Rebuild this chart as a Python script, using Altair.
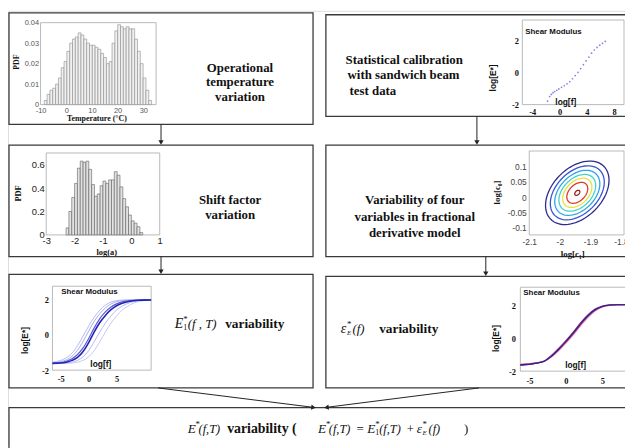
import altair as alt
import numpy as np
import pandas as pd

W, H = 625, 440
SERIF = "Liberation Serif"
SANS = "Liberation Sans"

# ---------------- data ----------------
temp_centers = [-8.0, -6.9, -5.8, -4.7, -3.6, -2.5, -1.4, -0.3, 0.8, 1.9, 3.0, 4.1, 5.2, 6.3,
                7.4, 8.5, 9.6, 10.7, 11.8, 12.9, 14.0, 15.1, 16.2, 17.3, 18.4, 19.5, 20.6,
                21.7, 22.8, 23.9, 25.0, 26.1, 27.2, 28.3, 29.4, 30.5, 31.6, 32.7]
temp_pdf = [0.002, 0.005, 0.007, 0.008, 0.010, 0.013, 0.018, 0.021, 0.026, 0.030, 0.032, 0.033,
            0.035, 0.034, 0.032, 0.030, 0.029, 0.029, 0.028, 0.027, 0.025, 0.023, 0.020, 0.021,
            0.030, 0.036, 0.039, 0.038, 0.037, 0.038, 0.037, 0.037, 0.032, 0.026, 0.020, 0.013,
            0.007, 0.002]
temp_half = 0.55

shift_centers = [-2.25, -2.15, -2.05, -1.95, -1.85, -1.75, -1.65, -1.55, -1.45, -1.35, -1.25,
                 -1.15, -1.05, -0.95, -0.85, -0.75, -0.65, -0.55, -0.45, -0.35, -0.25, -0.15,
                 -0.05, 0.05, 0.15, 0.25, 0.35]
shift_pdf = [0.06, 0.20, 0.32, 0.44, 0.57, 0.63, 0.62, 0.63, 0.56, 0.43, 0.33, 0.35, 0.42, 0.46,
             0.44, 0.47, 0.47, 0.54, 0.51, 0.41, 0.31, 0.24, 0.17, 0.12, 0.10, 0.07, 0.02]
shift_half = 0.05

scat_logf = [-1.75, -1.45, -1.2, -0.95, -0.7, -0.4, -0.1, 0.3, 0.7, 1.1, 1.5, 1.9,
             2.3, 2.7, 3.1, 3.5, 3.9, 4.3, 4.7, 5.1, 5.5, 5.9, 6.3, 6.7]
scat_logE = [-1.78, -1.50, -1.36, -1.25, -1.18, -1.10, -1.02, -0.92, -0.82, -0.70, -0.56, -0.38,
             -0.18, 0.02, 0.26, 0.50, 0.74, 0.98, 1.22, 1.42, 1.58, 1.72, 1.84, 1.96]

e1_logf = [-6.5, -5, -4, -3, -2, -1, 0, 1, 2, 3, 4, 5, 6, 7, 8, 9, 10, 11.2]
e1_series = {
    "light_a": [-1.55, -1.45, -1.30, -1.05, -0.62, -0.08, 0.48, 0.98, 1.38, 1.66, 1.83, 1.91, 1.94, 1.95, 1.95, 1.95, 1.95, 1.95],
    "light_b": [-1.58, -1.52, -1.42, -1.22, -0.88, -0.38, 0.20, 0.75, 1.18, 1.50, 1.72, 1.85, 1.91, 1.94, 1.95, 1.95, 1.95, 1.95],
    "light_c": [-1.62, -1.62, -1.60, -1.55, -1.45, -1.25, -0.90, -0.40, 0.15, 0.65, 1.05, 1.38, 1.60, 1.75, 1.85, 1.90, 1.93, 1.95],
    "light_d": [-1.62, -1.62, -1.62, -1.60, -1.55, -1.45, -1.25, -0.90, -0.40, 0.15, 0.65, 1.05, 1.38, 1.60, 1.76, 1.86, 1.92, 1.95],
    "dark_b": [-1.60, -1.57, -1.50, -1.36, -1.12, -0.75, -0.22, 0.38, 0.90, 1.28, 1.55, 1.73, 1.84, 1.90, 1.93, 1.94, 1.95, 1.95],
    "dark_a": [-1.62, -1.60, -1.55, -1.45, -1.28, -0.95, -0.45, 0.15, 0.68, 1.08, 1.40, 1.62, 1.76, 1.85, 1.90, 1.93, 1.94, 1.95],
}
e1_colors = {"light_a": "#b4baf0", "light_b": "#a6aeee", "light_c": "#b4baf0", "light_d": "#c4c9f4",
             "dark_b": "#5a5ad6", "dark_a": "#2424b4"}
e1_widths = {"light_a": 1.0, "light_b": 1.0, "light_c": 1.0, "light_d": 1.0, "dark_b": 1.2, "dark_a": 1.6}

eps_logf = [-6.25, -5, -4, -3, -2, -1, 0, 1, 2, 3, 4, 5, 6, 7, 8.1]
eps_series = {
    "pink": [-1.58, -1.54, -1.48, -1.40, -1.15, -0.76, -0.30, 0.20, 0.74, 1.24, 1.64, 1.88, 1.98, 2.01, 2.02],
    "magenta": [-1.60, -1.56, -1.50, -1.40, -1.12, -0.72, -0.25, 0.26, 0.80, 1.30, 1.68, 1.90, 1.99, 2.02, 2.02],
    "purple": [-1.65, -1.60, -1.50, -1.38, -1.05, -0.62, -0.15, 0.36, 0.92, 1.40, 1.76, 1.94, 2.01, 2.02, 2.02],
    "navy": [-1.62, -1.58, -1.52, -1.42, -1.10, -0.68, -0.20, 0.30, 0.86, 1.35, 1.72, 1.92, 2.00, 2.02, 2.02],
}
eps_colors = {"pink": "#f08cb8", "magenta": "#c8358e", "purple": "#7a2c9e", "navy": "#24247c"}

# contour rings of the joint density (read: centre, outer ring semi-axes in px, tilt, ring scales)
cont_center = (-1.943, 0.014)
cont_outer_axes_px = (38.0, 25.0)
cont_tilt_deg = 45.0
cont_scales = [1.0, 0.85, 0.71, 0.58, 0.46, 0.33, 0.08]
cont_colors = ["#2c2c8e", "#3a55d4", "#2fa6e6", "#46d2c8", "#e4e23c", "#e2382a", "#9c1c1c"]
CONT_PX_PER_UNIT = 310.0

# ---------------- tables ----------------
dummy = pd.DataFrame({"k": [0]})

df_temp = pd.DataFrame({"c": temp_centers, "pdf": temp_pdf})
df_temp["lo"] = df_temp["c"] - temp_half
df_temp["hi"] = df_temp["c"] + temp_half

df_shift = pd.DataFrame({"c": shift_centers, "pdf": shift_pdf})
df_shift["lo"] = df_shift["c"] - shift_half
df_shift["hi"] = df_shift["c"] + shift_half

df_scat = pd.DataFrame({"f": scat_logf, "E": scat_logE})

rows = []
for k, ys in e1_series.items():
    for i, (xv, yv) in enumerate(zip(e1_logf, ys)):
        rows.append({"s": k, "i": i, "f": xv, "E": yv, "col": e1_colors[k], "sw": e1_widths[k]})
df_e1 = pd.DataFrame(rows)

rows = []
for k, ys in eps_series.items():
    for i, (xv, yv) in enumerate(zip(eps_logf, ys)):
        rows.append({"s": k, "i": i, "f": xv, "E": yv, "col": eps_colors[k]})
df_eps = pd.DataFrame(rows)

rows = []
th = np.deg2rad(cont_tilt_deg)
a_px, b_px = cont_outer_axes_px
for lvl, (scl, col) in enumerate(zip(cont_scales, cont_colors)):
    for i, t in enumerate(np.linspace(0, 2 * np.pi, 73)):
        u, v = a_px * np.cos(t), b_px * np.sin(t)
        dx = u * np.cos(th) - v * np.sin(th)
        dy = u * np.sin(th) + v * np.cos(th)
        rows.append({"lvl": lvl, "i": i, "col": col,
                     "c1": cont_center[0] + scl * dx / CONT_PX_PER_UNIT,
                     "c0": cont_center[1] + scl * dy / CONT_PX_PER_UNIT})
df_cont = pd.DataFrame(rows)

# ---------------- helpers ----------------
def box(x, x2, y, y2, stroke="#3a3a3a", sw=1.3, fill="white"):
    return alt.Chart(dummy).mark_rect(fill=fill, stroke=stroke, strokeWidth=sw).encode(
        x=alt.value(x), x2=alt.value(x2), y=alt.value(y), y2=alt.value(y2))


def txt(s, x, y, size=13, font=SERIF, weight="bold", style="normal", align="center",
        angle=0, color="#111111", baseline="middle", lh=None):
    kw = dict(text=s, fontSize=size, font=font, fontWeight=weight, fontStyle=style,
              align=align, angle=angle, color=color, baseline=baseline)
    if lh is not None:
        kw["lineHeight"] = lh
    return alt.Chart(dummy).mark_text(**kw).encode(x=alt.value(x), y=alt.value(y))


def vline_arrow(x, y1, y2):
    r = alt.Chart(dummy).mark_rule(color="#222222", strokeWidth=1).encode(
        x=alt.value(x), y=alt.value(y1), y2=alt.value(y2 - 3))
    h = alt.Chart(dummy).mark_point(shape="triangle-down", filled=True, size=28, color="#222222",
                                    opacity=1, strokeWidth=0).encode(
        x=alt.value(x), y=alt.value(y2 - 2.6))
    return [r, h]


def diag_arrow(x1, y1, x2, y2):
    dx, dy = x2 - x1, y2 - y1
    L = (dx * dx + dy * dy) ** 0.5
    ux, uy = dx / L, dy / L
    ang = float(np.degrees(np.arctan2(uy, ux))) % 360
    r = alt.Chart(dummy).mark_rule(color="#222222", strokeWidth=1).encode(
        x=alt.value(x1), y=alt.value(y1), x2=alt.value(x2 - 3 * ux), y2=alt.value(y2 - 3 * uy))
    h = alt.Chart(dummy).mark_point(shape="triangle-right", filled=True, size=28, color="#222222",
                                    opacity=1, strokeWidth=0, angle=ang).encode(
        x=alt.value(x2 - 2.6 * ux), y=alt.value(y2 - 2.6 * uy))
    return [r, h]


def ax(orient, offset, values, font, size, weight, color, pad):
    return alt.Axis(orient=orient, offset=offset, values=values,
                    labelFont=font, labelFontSize=size, labelFontWeight=weight,
                    labelColor=color, labelPadding=pad, ticks=False, domain=False,
                    grid=False, title=None, labelFlush=False, labelOverlap=False,
                    zindex=2,
                    labelExpr="'' + datum.value")


def sc(domain, rng):
    return alt.Scale(domain=domain, range=rng, nice=False, zero=False)


layers = []

# ---------------- boxes ----------------
layers += [
    box(1, 309, 2, 115), box(322, 660, 4, 107),
    box(1, 309, 136, 249), box(322, 660, 136, 249),
    box(1, 309, 267, 382), box(322, 660, 269, 382),
    box(1, 660, 402, 470),
]

# inner plot frames
FR = "#a8a8a8"
layers += [
    box(33, 150, 12, 95, stroke=FR, sw=0.8),
    box(38.7, 153.7, 144, 227, stroke=FR, sw=0.8),
    box(521, 624, 9.3, 95, stroke=FR, sw=0.8),
    box(528, 624, 142, 227, stroke=FR, sw=0.8),
    box(45, 145, 279, 364, stroke=FR, sw=0.8),
    box(519, 640, 280, 365, stroke=FR, sw=0.8),
]

# ---------------- chart 1: temperature histogram ----------------
layers.append(
    alt.Chart(df_temp).mark_rect(fill="#f1f1f1", stroke="#8a8a8a", strokeWidth=0.6).encode(
        x=alt.X("lo:Q", scale=sc([-10, 35], [33, 150]),
                axis=ax("bottom", 95 - H, [-10, 0, 10, 20, 30], SANS, 7.5, "normal", "#555555", 2)),
        x2="hi:Q",
        y=alt.Y("pdf:Q", scale=sc([0, 0.04], [95, 12]),
                axis=ax("left", -33, [0, 0.01, 0.02, 0.03, 0.04], SANS, 7.5, "normal", "#555555", 2)),
        y2=alt.datum(0),
    )
)
layers += [
    txt("PDF", 9, 52, size=8, angle=270),
    txt("Temperature (°C)", 90, 109.5, size=8),
]

# ---------------- chart 2: shift factor histogram ----------------
layers.append(
    alt.Chart(df_shift).mark_rect(fill="#e2e2e2", stroke="#5e5e5e", strokeWidth=0.6).encode(
        x=alt.X("lo:Q", scale=sc([-3, 1], [38.7, 153.7]),
                axis=ax("bottom", 227 - H, [-3, -2, -1, 0, 1], SANS, 9.5, "normal", "#222222", 1)),
        x2="hi:Q",
        y=alt.Y("pdf:Q", scale=sc([0, 0.7], [227, 144]),
                axis=ax("left", -38.7, [0, 0.2, 0.4, 0.6], SANS, 9.5, "normal", "#222222", 2)),
        y2=alt.datum(0),
    )
)
layers += [
    txt("PDF", 10, 185, size=8.5, angle=270),
    txt("log(a)", 100, 244, size=8.5),
]

# ---------------- chart 3: calibration scatter ----------------
layers.append(
    alt.Chart(df_scat).mark_circle(size=3, color="#4a4ad8", opacity=0.7).encode(
        x=alt.X("f:Q", scale=sc([-5.45, 9.45], [521, 624]),
                axis=ax("bottom", 95 - H, [-4, 0, 4, 8], SERIF, 8.5, "bold", "#111111", 3)),
        y=alt.Y("E:Q", scale=sc([-2, 3.3], [95, 9.3]),
                axis=ax("left", -521, [-2, 0, 2], SERIF, 8.5, "bold", "#111111", 4)),
    )
)
layers += [
    txt("log[E*]", 491, 68, size=8.5, font=SANS, angle=270),
    txt("Shear Modulus", 524, 21, size=8, font=SANS, align="left"),
    txt("log[f]", 565, 92, size=8.5, font=SANS),
]

# ---------------- chart 4: contours ----------------
layers.append(
    alt.Chart(df_cont).mark_line(strokeWidth=1.3).encode(
        x=alt.X("c1:Q", scale=sc([-2.1, -2.1 + 96 / CONT_PX_PER_UNIT], [528, 624]),
                axis=ax("bottom", 227 - H, [-2.1, -2, -1.9, -1.8], SANS, 8.5, "normal", "#444444", 3)),
        y=alt.Y("c0:Q", scale=sc([-0.1235, 0.1506], [227, 142]),
                axis=ax("left", -528, [-0.1, -0.05, 0, 0.05, 0.1], SANS, 8.5, "normal", "#444444", 3)),
        detail="lvl:N",
        order="i:Q",
        color=alt.Color("col:N", scale=None),
    )
)
layers += [
    txt("log[c₀]", 495, 184, size=9, font=SERIF, angle=270),
    txt("log[c₁]", 572, 246, size=9, font=SERIF),
]

# ---------------- chart 5: E1 variability curves ----------------
layers.append(
    alt.Chart(df_e1).mark_line(interpolate="monotone").encode(
        x=alt.X("f:Q", scale=sc([-6.5, 11.2], [45, 145]),
                axis=ax("bottom", 364 - H, [-5, 0, 5], SERIF, 8.5, "bold", "#111111", 5)),
        y=alt.Y("E:Q", scale=sc([-2, 2.72], [364, 279]),
                axis=ax("left", -45, [-2, 0, 2], SERIF, 8.5, "bold", "#111111", 4)),
        detail="s:N",
        order="i:Q",
        color=alt.Color("col:N", scale=None),
        strokeWidth=alt.StrokeWidth("sw:Q", scale=None),
    )
)
layers += [
    txt("log[E*]", 17, 334, size=8.5, font=SANS, angle=270),
    txt("Shear Modulus", 54, 285, size=8, font=SANS, align="left"),
    txt("log[f]", 94, 358, size=8.5, font=SANS),
]

# ---------------- chart 6: epsilon variability curves ----------------
layers.append(
    alt.Chart(df_eps).mark_line(interpolate="monotone", strokeWidth=1.1).encode(
        x=alt.X("f:Q", scale=sc([-6.25, 8.1], [519, 625]),
                axis=ax("bottom", 365 - H, [-5, 0, 5], SERIF, 8.5, "bold", "#111111", 6)),
        y=alt.Y("E:Q", scale=sc([-2, 3.08], [365, 280]),
                axis=ax("left", -519, [-2, 0, 2], SERIF, 8.5, "bold", "#111111", 5)),
        detail="s:N",
        order="i:Q",
        color=alt.Color("col:N", scale=None),
    )
)
layers += [
    txt("log[E*]", 494, 332, size=8.5, font=SANS, angle=270),
    txt("Shear Modulus", 522, 286, size=8, font=SANS, align="left"),
    txt("log[f]", 575, 359, size=8.5, font=SANS),
]

# ---------------- box texts ----------------
layers += [
    txt(["Operational", "temperature", "variation"], 235, 58, size=13, lh=14.5),
    txt("Statistical calibration", 342, 50, size=13, align="left"),
    txt("with sandwich beam", 344, 65.5, size=13, align="left"),
    txt("test data", 346, 81, size=13, align="left"),
    txt(["Shift factor", "variation"], 225, 191.5, size=13, lh=15),
    txt(["Variability of four", "variables in fractional", "derivative model"], 412, 192, size=13, lh=16.5),
]

# box E: E*_1(f,T) variability
YE = 317
layers += [
    txt("E", 169, YE, size=14, style="italic", weight="normal", align="left"),
    txt("*", 177.5, YE - 5, size=9, weight="normal", align="left"),
    txt("1", 177.5, YE + 4, size=8, weight="normal", align="left"),
    txt("(f , T)", 182, YE, size=13, style="italic", weight="normal", align="left"),
    txt("variability", 220, YE, size=13.5, align="left"),
]
# box F: eps*_E(f) variability
YF = 322
layers += [
    txt("ε", 337, YF, size=14, style="italic", weight="normal", align="left"),
    txt("*", 343.5, YF - 5, size=9, weight="normal", align="left"),
    txt("E", 343.5, YF + 4, size=7, style="italic", weight="normal", align="left"),
    txt("(f)", 349, YF, size=13, style="italic", weight="normal", align="left"),
    txt("variability", 376, YF, size=13.5, align="left"),
]
# box G
YG = 424
layers += [
    txt("E", 182, YG, size=13.5, style="italic", weight="normal", align="left"),
    txt("*", 190, YG - 5, size=9, weight="normal", align="left"),
    txt("(f,T)", 193, YG, size=12.5, style="italic", weight="normal", align="left"),
    txt("variability (", 222, YG, size=14, align="left"),
    txt("E", 314, YG, size=13.5, style="italic", weight="normal", align="left"),
    txt("*", 322, YG - 5, size=9, weight="normal", align="left"),
    txt("(f,T)", 325, YG, size=12.5, style="italic", weight="normal", align="left"),
    txt("=", 353, YG, size=13, weight="normal", align="left"),
    txt("E", 364, YG, size=13.5, style="italic", weight="normal", align="left"),
    txt("*", 372, YG - 5, size=9, weight="normal", align="left"),
    txt("1", 372, YG + 4, size=8, weight="normal", align="left"),
    txt("(f,T)", 376, YG, size=12.5, style="italic", weight="normal", align="left"),
    txt("+", 404, YG, size=13, weight="normal", align="left"),
    txt("ε", 414, YG, size=13.5, style="italic", weight="normal", align="left"),
    txt("*", 420, YG - 5, size=9, weight="normal", align="left"),
    txt("E", 420, YG + 4, size=7, style="italic", weight="normal", align="left"),
    txt("(f)", 426, YG, size=12.5, style="italic", weight="normal", align="left"),
    txt(")", 462, YG, size=13, weight="normal", align="left"),
]

# ---------------- arrows ----------------
layers += vline_arrow(155, 115, 136)
layers += vline_arrow(475, 107, 136)
layers += vline_arrow(155, 249, 267)
layers += vline_arrow(484, 249, 269)
layers += diag_arrow(152, 382, 312, 402)
layers += diag_arrow(477, 382, 320, 402)

chart = (
    alt.layer(*layers)
    .resolve_scale(x="independent", y="independent")
    .resolve_axis(x="independent", y="independent")
    .properties(width=W, height=H, padding=0, autosize=alt.AutoSizeParams(type="none"))
    .configure_view(stroke=None)
    .configure(background="white")
)

chart.save("out.html", embed_options={"renderer": "svg", "actions": False})
